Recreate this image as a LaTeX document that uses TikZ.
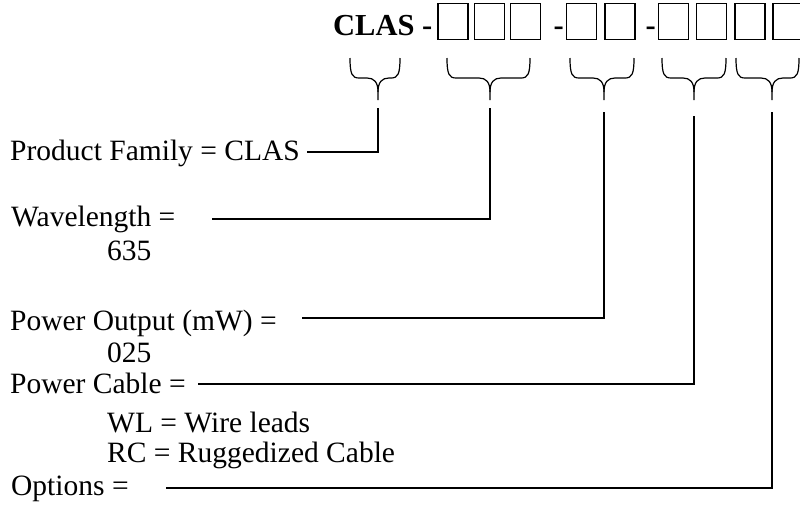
\documentclass[tikz,border=0pt]{standalone}
\usepackage{fontspec}
\setmainfont{Liberation Serif}
\newcommand\mybrace[3]{%
  \draw[brc] (#1,58) .. controls (#1,74) and ({#1+2},78) .. ({#1+9},78) -- ({#2-11},78) .. controls ({#2-4},78) and (#2,82) .. (#2,92) -- (#2,100);
  \draw[brc] (#3,58) .. controls (#3,74) and ({#3-2},78) .. ({#3-9},78) -- ({#2+11},78) .. controls ({#2+4},78) and (#2,82) .. (#2,92);
}
\begin{document}
\begin{tikzpicture}[x=1pt,y=-1pt,
  lbl/.style={anchor=base west,inner sep=0pt,font=\fontsize{29.5}{35}\selectfont},
  head/.style={anchor=base west,inner sep=0pt,font=\fontsize{30.5}{36}\selectfont\bfseries},
  cbox/.style={draw,line width=1.3pt,minimum width=30pt,minimum height=36pt,inner sep=0pt},
  conn/.style={line width=1.4pt},
  brc/.style={line width=1.2pt}]
\useasboundingbox (0,0) rectangle (800,504);
\fill[white] (0,0) rectangle (800,504);

% heading
\node[head] (clas) at (333,35) {CLAS -};
\node[cbox] (b1) at (453,21.5) {};
\node[cbox] (b2) at (489.5,21.5) {};
\node[cbox] (b3) at (525.5,21.5) {};
\node[head] (d2) at (553.5,35) {-};
\node[cbox] (b4) at (581.5,21.5) {};
\node[cbox] (b5) at (620,21.5) {};
\node[head] (d3) at (645.5,35) {-};
\node[cbox] (b6) at (673.5,21.5) {};
\node[cbox] (b7) at (711.5,21.5) {};
\node[cbox] (b8) at (750,21.5) {};
\node[cbox] (b9) at (788,21.5) {};

% braces
\mybrace{350}{378}{400}
\mybrace{447}{490}{530}
\mybrace{570}{604}{634}
\mybrace{662}{694}{726}
\mybrace{736}{772}{799}

% labels
\node[lbl] (pf) at (10,160) {Product Family = CLAS};
\node[lbl] (wl) at (11,226) {Wavelength =};
\node[lbl] (wlv) at (107,260) {635};
\node[lbl] (po) at (10,330) {Power Output (mW) =};
\node[lbl] (pov) at (107,362) {025};
\node[lbl] (pc) at (10,393) {Power Cable =};
\node[lbl] (pc1) at (107,432) {WL = Wire leads};
\node[lbl] (pc2) at (107,462) {RC = Ruggedized Cable};
\node[lbl] (op) at (11,495) {Options =};

% connector ends
\coordinate (t1) at (378,108);
\coordinate (t2) at (490,108);
\coordinate (t3) at (604,112);
\coordinate (t4) at (694,116);
\coordinate (t5) at (772,112);
\coordinate (e1) at (307,152);
\coordinate (e2) at (212,219);
\coordinate (e3) at (302,318);
\coordinate (e4) at (198,384);
\coordinate (e5) at (166,488);

\draw[conn] (t1) |- (e1);
\draw[conn] (t2) |- (e2);
\draw[conn] (t3) |- (e3);
\draw[conn] (t4) |- (e4);
\draw[conn] (t5) |- (e5);
\end{tikzpicture}
\end{document}
